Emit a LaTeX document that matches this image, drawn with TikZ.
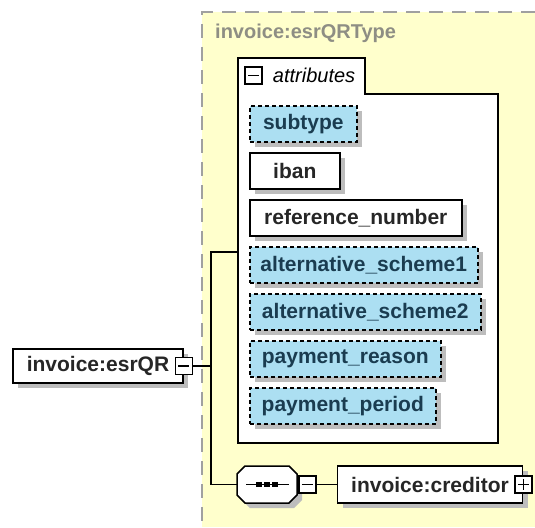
\documentclass[tikz,border=0pt]{standalone}
\usepackage{fontspec}
\setmainfont{Liberation Sans}
\usepackage{tikz}
\usetikzlibrary{shadows, positioning}

\definecolor{typgelb}{HTML}{FFFFCC}
\definecolor{attrblau}{HTML}{ACDFF2}
\definecolor{schatten}{HTML}{BDBDBD}
\definecolor{rahmengrau}{HTML}{A0A0A0}
\definecolor{titelgrau}{HTML}{8E8E84}
\definecolor{attrtext}{HTML}{1A3C50}

\begin{document}
\begin{tikzpicture}[x=1pt, y=-1pt, font=\fontsize{20}{24}\selectfont,
    element/.style={draw, fill=white, line width=1.6pt, text=black!85,
        font=\fontsize{21}{24}\selectfont\bfseries, minimum height=36pt, inner sep=0pt,
        drop shadow={shadow xshift=5pt, shadow yshift=-5pt, fill=schatten, opacity=1}},
    optattr/.style={element, fill=attrblau, text=attrtext, dash pattern=on 4pt off 3pt},
    reqattr/.style={element},
    knopf/.style={draw, fill=white, line width=1.5pt, minimum size=17pt, inner sep=0pt},
    minusknopf/.style={knopf, path picture={
        \draw[line width=1.5pt] ([xshift=3pt]path picture bounding box.west) -- ([xshift=-3pt]path picture bounding box.east);}},
    plusknopf/.style={knopf, path picture={
        \draw[line width=1.5pt] ([xshift=3pt]path picture bounding box.west) -- ([xshift=-3pt]path picture bounding box.east);
        \draw[line width=1.5pt] ([yshift=-3pt]path picture bounding box.north) -- ([yshift=3pt]path picture bounding box.south);}},
    sequenz/.style={minimum width=60pt, minimum height=37pt, inner sep=0pt},
    linie/.style={line width=1.5pt}]

    % --- 1. PARAMETER ---
    \def\attrx{249}   % linke Kante der Attribute
    \def\attrdy{47}   % Abstand von Attribut zu Attribut

    % --- 2. HINTERGRUND (TYP) ---
    \useasboundingbox (0,0) rectangle (535,527);
    \fill[typgelb] (202,12) rectangle (535,527);
    \draw[rahmengrau, line width=1.5pt, dash pattern=on 14pt off 9pt] (535,12) -- (202,12) -- (202,527);
    \node[anchor=west, inner sep=0pt, text=titelgrau, font=\fontsize{20}{24}\selectfont\bfseries] (typname) at (215,33) {invoice:esrQRType};

    % --- 3. ATTRIBUT-CONTAINER ---
    \draw[fill=white, linie] (238,58) -- (365,58) -- (365,94) -- (498,94) -- (498,443) -- (238,443) -- cycle;
    \node[minusknopf] (attrknopf) at (253.5,75.5) {};
    \node[right=10pt of attrknopf, inner sep=0pt, font=\fontsize{20}{24}\selectfont\itshape] (attrtitel) {attributes};
    \coordinate (attrein) at (238,252);

    % --- 4. MAKRO FUER DIE ATTRIBUTE ---
    \newcommand{\attrbox}[5]{
        \node[#4, anchor=north west, minimum width=#3] (#1) at (\attrx, {105+#2*\attrdy}) {#5};
    }

    \attrbox{subtype}{0}{107pt}{optattr}{subtype}
    \attrbox{iban}{1}{90pt}{reqattr}{iban}
    \attrbox{refnr}{2}{212pt}{reqattr}{reference\_number}
    \attrbox{altschema1}{3}{228pt}{optattr}{alternative\_scheme1}
    \attrbox{altschema2}{4}{231pt}{optattr}{alternative\_scheme2}
    \attrbox{zweck}{5}{191pt}{optattr}{payment\_reason}
    \attrbox{periode}{6}{186pt}{optattr}{payment\_period}

    % --- 5. ELEMENTE ---
    \node[element, minimum width=170pt, minimum height=34pt] (qr) at (98,366) {invoice:esrQR};
    \node[minusknopf] (qrknopf) at (qr.east) {};
    \coordinate (verzweig) at (211,366);

    % Sequenz-Symbol (Achteck mit Schatten)
    \node[sequenz] (seq) at (267,484.5) {};
    \fill[schatten, shift={(seq.center)}, xshift=5pt, yshift=-5pt]
        (-30,-10.5) -- (-22,-18.5) -- (22,-18.5) -- (30,-10.5) -- (30,10.5) -- (22,18.5) -- (-22,18.5) -- (-30,10.5) -- cycle;
    \draw[linie, fill=white, shift={(seq.center)}]
        (-30,-10.5) -- (-22,-18.5) -- (22,-18.5) -- (30,-10.5) -- (30,10.5) -- (22,18.5) -- (-22,18.5) -- (-30,10.5) -- cycle;
    \draw[linie] ([xshift=-21pt]seq.center) -- ([xshift=22pt]seq.center);
    \foreach \dx in {-8,0,8}
        \fill ([xshift=\dx pt]seq.center) +(-2.8,-2.8) rectangle +(2.8,2.8);
    \node[minusknopf, right=1pt of seq] (seqknopf) {};

    \node[element, minimum width=185pt, minimum height=37pt, right=20pt of seqknopf] (kreditor) {invoice:creditor};
    \node[plusknopf] (kreditorknopf) at (kreditor.east) {};

    % --- 6. VERBINDUNGEN ---
    \draw[linie] (qrknopf.east) -- (verzweig);
    \draw[linie] (attrein) -| (verzweig) |- (seq.west);
    \draw[linie] (seqknopf.east) -- (kreditor.west);

\end{tikzpicture}
\end{document}
